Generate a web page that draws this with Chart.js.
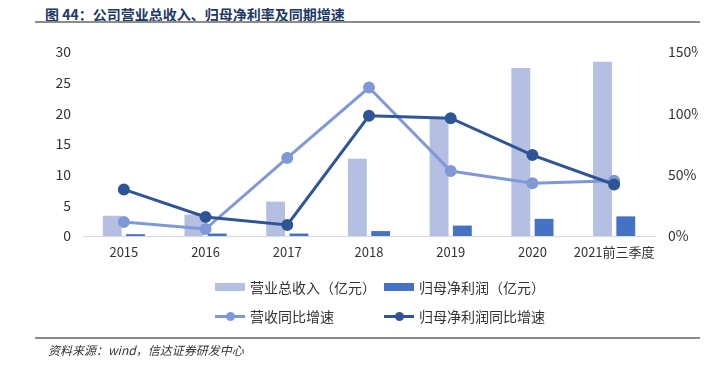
<!DOCTYPE html>
<html>
<head>
<meta charset="utf-8">
<script src="https://cdn.jsdelivr.net/npm/chart.js"></script>
<style>
    body { margin: 0; background: #fff; font-family: 'Noto Sans CJK SC', sans-serif; }
    #wrap { position: relative; width: 718px; height: 367px; overflow: hidden; }
    .title { position: absolute; left: 45px; top: 4px; font-size: 14px; font-weight: bold; color: #203864; }
    .rule { position: absolute; left: 35px; width: 665px; height: 2px; background: #8c8c8c; }
    .source { position: absolute; left: 48px; top: 341px; font-size: 12px; font-style: italic; color: #333; }
    #chartBox { position: absolute; left: 0; top: 0; width: 698px; height: 367px; }
    .lg { position: absolute; display: flex; align-items: center; font-size: 14px; color: #333; }
    .lg .sw { width: 30px; height: 18px; position: relative; margin-right: 5px; }
</style>
</head>
<body>
<div id="wrap">
    <div class="title">图 44：公司营业总收入、归母净利率及同期增速</div>
    <div class="rule" style="top:21px"></div>
    <div id="chartBox"><canvas id="c"></canvas></div>
    <div id="legend"></div>
    <div class="rule" style="top:337px"></div>
    <div class="source">资料来源：wind，信达证券研发中心</div>
</div>
<script>
    const categories = ['2015', '2016', '2017', '2018', '2019', '2020', '2021前三季度'];
    const revenue = [3.3, 3.5, 5.6, 12.6, 19.2, 27.4, 28.4];        // 营业总收入（亿元）
    const netProfit = [0.3, 0.4, 0.4, 0.8, 1.7, 2.8, 3.2];          // 归母净利润（亿元）
    const revenueGrowth = [11.4, 5.7, 63.6, 121, 53, 43, 45];       // 营收同比增速 %
    const profitGrowth = [38, 15.5, 9, 98, 96, 66, 42];             // 归母净利润同比增速 %
    const leftMax = 30, leftStep = 5;
    const rightMax = 150, rightStep = 50;

    const FONT = "'Noto Sans CJK SC', sans-serif";

    const chart = new Chart(document.getElementById('c'), {
        type: 'bar',
        data: {
            labels: categories,
            datasets: [
                {
                    label: '营业总收入（亿元）',
                    data: revenue,
                    backgroundColor: '#b4bfe2',
                    yAxisID: 'y',
                    order: 2,
                    categoryPercentage: 0.57,
                    barPercentage: 0.81
                },
                {
                    label: '归母净利润（亿元）',
                    data: netProfit,
                    backgroundColor: '#4472c4',
                    yAxisID: 'y',
                    order: 3,
                    categoryPercentage: 0.57,
                    barPercentage: 0.81
                },
                {
                    type: 'line',
                    label: '营收同比增速',
                    data: revenueGrowth,
                    borderColor: '#7f99d6',
                    backgroundColor: '#7f99d6',
                    borderWidth: 3,
                    pointRadius: 4.5,
                    pointHoverRadius: 4.5,
                    yAxisID: 'y1',
                    order: 1
                },
                {
                    type: 'line',
                    label: '归母净利润同比增速',
                    data: profitGrowth,
                    borderColor: '#2f5597',
                    backgroundColor: '#2f5597',
                    borderWidth: 3,
                    pointRadius: 4.5,
                    pointHoverRadius: 4.5,
                    yAxisID: 'y1',
                    order: 0
                }
            ]
        },
        options: {
            responsive: true,
            maintainAspectRatio: false,
            animation: false,
            layout: { padding: { top: 52, bottom: 101, left: 0, right: 0 } },
            plugins: { legend: { display: false }, tooltip: { enabled: false } },
            scales: {
                x: {
                    grid: { display: false, drawTicks: false },
                    border: { display: true, color: '#d9d9d9', width: 1 },
                    ticks: { color: '#333', font: { family: FONT, size: 13 }, padding: 8, maxRotation: 0, autoSkip: false },
                    afterFit: s => { s.height = 30; }
                },
                y: {
                    position: 'left',
                    min: 0, max: leftMax,
                    grid: { display: false, drawTicks: false },
                    border: { display: false },
                    ticks: { stepSize: leftStep, color: '#333', font: { family: FONT, size: 14 }, padding: 12 },
                    afterFit: s => { s.width = 83; }
                },
                y1: {
                    position: 'right',
                    min: 0, max: rightMax,
                    grid: { display: false, drawTicks: false },
                    border: { display: false },
                    ticks: { stepSize: rightStep, color: '#333', font: { family: FONT, size: 14 }, padding: 13,
                             callback: v => v + '%' },
                    afterFit: s => { s.width = 43; }
                }
            }
        }
    });

    // HTML legend in two rows, built from the datasets
    const legendPos = [[215, 288], [384, 288], [215, 317], [384, 317]];
    const legendEl = document.getElementById('legend');
    chart.data.datasets.forEach((ds, i) => {
        const item = document.createElement('div');
        item.className = 'lg';
        item.style.left = legendPos[i][0] + 'px';
        item.style.top = (legendPos[i][1] - 11) + 'px';
        const sw = document.createElement('div');
        sw.className = 'sw';
        if (ds.type === 'line') {
            sw.innerHTML = `<div style="position:absolute;left:0;top:8px;width:30px;height:3px;background:${ds.borderColor}"></div>
                <div style="position:absolute;left:11px;top:5px;width:9px;height:9px;border-radius:50%;background:${ds.borderColor}"></div>`;
        } else {
            sw.innerHTML = `<div style="position:absolute;left:0;top:5px;width:30px;height:8px;background:${ds.backgroundColor}"></div>`;
        }
        const txt = document.createElement('span');
        txt.textContent = ds.label;
        item.appendChild(sw);
        item.appendChild(txt);
        legendEl.appendChild(item);
    });
</script>
</body>
</html>
